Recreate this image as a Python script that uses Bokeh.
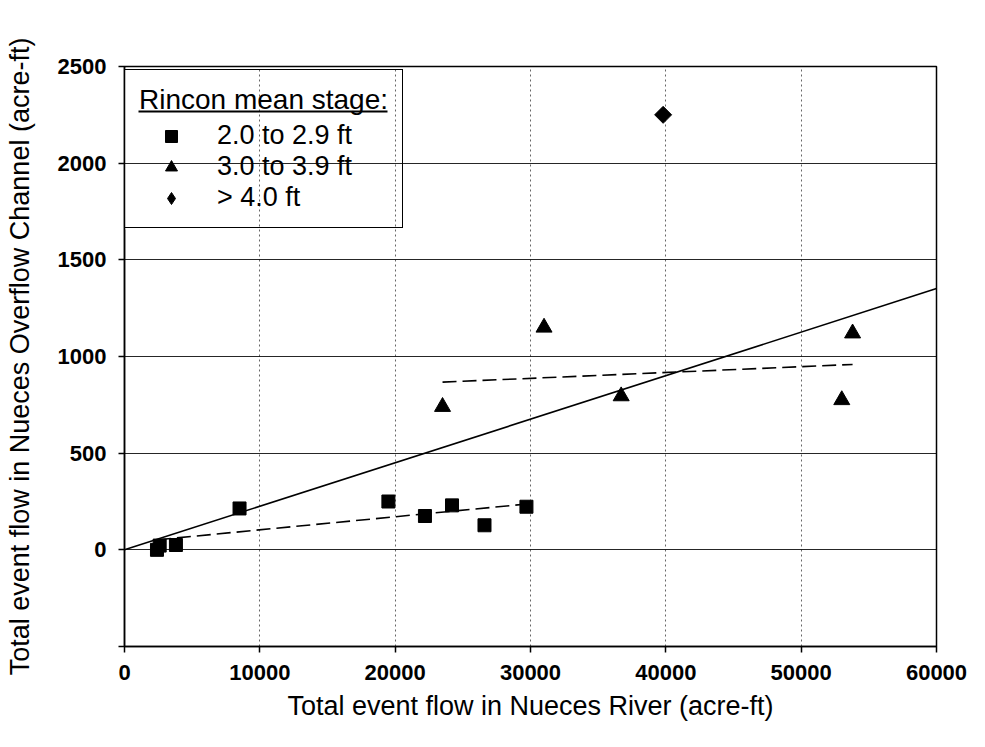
import numpy as np
from bokeh.plotting import figure
from bokeh.models import (Legend, LegendItem, SingleIntervalTicker,
                          Range1d, NumeralTickFormatter)
from bokeh.embed import file_html
from bokeh.resources import INLINE

# ---------------- data ----------------
sq_x = [2400, 2600, 3800, 8500, 19500, 22200, 24200, 26600, 29700]
sq_y = [0, 22, 25, 214, 250, 175, 230, 127, 223]
tri_x = [23500, 31000, 36700, 53000, 53800]
tri_y = [740, 1150, 795, 775, 1120]
dia_x = [39800]
dia_y = [2250]

legend_title = "Rincon mean stage:"
series_labels = ["2.0 to 2.9 ft", "3.0 to 3.9 ft", "> 4.0 ft"]
x_title = "Total event flow in Nueces River (acre-ft)"
y_title = "Total event flow in Nueces Overflow Channel (acre-ft)"
x_min, x_max, x_step = 0, 60000, 10000
y_min, y_max, y_step = -500, 2500, 500

FONT = "Liberation Sans"

# ---------------- regressions ----------------
all_x = np.array(sq_x + tri_x + dia_x, dtype=float)
all_y = np.array(sq_y + tri_y + dia_y, dtype=float)
k0 = float(np.sum(all_x * all_y) / np.sum(all_x ** 2))   # through origin
fit_x = [x_min, x_max]
fit_y = [k0 * v for v in fit_x]

def ols(xs, ys):
    m, b = np.polyfit(np.array(xs, float), np.array(ys, float), 1)
    xx = [min(xs), max(xs)]
    return xx, [m * v + b for v in xx]

sq_fx, sq_fy = ols(sq_x, sq_y)
tri_fx, tri_fy = ols(tri_x, tri_y)

# ---------------- figure ----------------
W, H = 969, 731
TOP, BOTTOM, LEFT, RIGHT = 66, 85, 124, 33
frame_w = W - LEFT - RIGHT
frame_h = H - TOP - BOTTOM
p = figure(width=W, height=H, output_backend="svg", toolbar_location=None,
           x_range=Range1d(x_min, x_max), y_range=Range1d(y_min, y_max),
           min_border_left=LEFT, min_border_right=RIGHT,
           min_border_top=TOP, min_border_bottom=BOTTOM,
           background_fill_color="white", border_fill_color="white")
p.outline_line_color = "black"
p.outline_line_width = 1.5

p.xaxis.ticker = SingleIntervalTicker(interval=x_step)
p.yaxis.ticker = SingleIntervalTicker(interval=y_step)
p.xaxis.formatter = NumeralTickFormatter(format="0")
p.yaxis.formatter = NumeralTickFormatter(format="0")
p.yaxis.major_label_overrides = {y_min: ""}

for ax in (p.xaxis[0], p.yaxis[0]):
    ax.axis_line_color = "black"
    ax.axis_line_width = 1.5
    ax.major_tick_line_color = "black"
    ax.major_tick_line_width = 1.5
    ax.major_tick_out = 6
    ax.major_tick_in = 0
    ax.minor_tick_line_color = None
    ax.major_label_text_font = FONT
    ax.major_label_text_font_size = "22px"
    ax.major_label_text_font_style = "bold"
    ax.major_label_text_color = "black"
    ax.axis_label_text_font = FONT
    ax.axis_label_text_font_size = "27px"
    ax.axis_label_text_font_style = "normal"
    ax.axis_label_text_color = "black"

p.xaxis.axis_label = x_title
p.yaxis.axis_label = y_title
p.xaxis.major_label_standoff = 12
p.xaxis.axis_label_standoff = 8
p.yaxis.major_label_standoff = 12
p.yaxis.axis_label_standoff = 20

p.xgrid.grid_line_color = "black"
p.xgrid.grid_line_alpha = 0.6
p.xgrid.grid_line_dash = "2 3"
p.xgrid.grid_line_width = 1
p.ygrid.grid_line_color = "black"
p.ygrid.grid_line_alpha = 0.85
p.ygrid.grid_line_width = 1

# ---------------- legend geometry (pixels, relative to the frame) ----------------
px_x = (x_max - x_min) / frame_w
px_y = (y_max - y_min) / frame_h
LEG_PAD = 14
LEG_BOTTOM_PX = 162          # legend bottom edge below the frame top
LEG_TOP_PX = 3               # legend top edge below the frame top (as laid out)
LEG_RIGHT_PX = 279           # legend right edge from the frame left
leg_y = frame_h - LEG_BOTTOM_PX

# white backing for the (transparent) legend box, drawn above the grid
p.quad(left=[x_min], right=[x_min + (LEG_RIGHT_PX + 1) * px_x],
       top=[y_max - (LEG_TOP_PX - 1) * px_y], bottom=[y_max - (LEG_BOTTOM_PX + 1) * px_y],
       fill_color="white", line_color=None, level="underlay")

# underline of the legend title
ul_left_px, ul_width_px, ul_top_px = LEG_PAD, 249, 44
p.quad(left=[x_min + ul_left_px * px_x],
       right=[x_min + (ul_left_px + ul_width_px) * px_x],
       top=[y_max - ul_top_px * px_y],
       bottom=[y_max - (ul_top_px + 2) * px_y],
       fill_color="black", line_color=None)

# ---------------- lines ----------------
p.line(fit_x, fit_y, line_color="black", line_width=1.6)
p.line(sq_fx, sq_fy, line_color="black", line_width=1.6, line_dash="14 6")
p.line(tri_fx, tri_fy, line_color="black", line_width=1.6, line_dash="14 6")

# ---------------- points ----------------
r_sq = p.scatter(sq_x, sq_y, marker="square", size=13, color="black")
r_tri = p.scatter(tri_x, tri_y, marker="triangle", size=16, color="black")
r_dia = p.scatter(dia_x, dia_y, marker="square", angle=np.pi / 4, size=12, color="black")
# legend swatch for the diamond series (same data, not drawn)
r_dia_leg = p.scatter(dia_x, dia_y, marker="diamond", size=18, color="black", visible=False)

# ---------------- legend ----------------
legend = Legend(
    items=[LegendItem(label=series_labels[0], renderers=[r_sq]),
           LegendItem(label=series_labels[1], renderers=[r_tri]),
           LegendItem(label=series_labels[2], renderers=[r_dia_leg])],
    location=(0, leg_y), title=legend_title,
    title_text_font=FONT, title_text_font_size="28px", title_text_font_style="normal",
    title_text_color="black",
    label_text_font=FONT, label_text_font_size="27px", label_text_color="black",
    border_line_color="black", border_line_width=1.5, border_line_alpha=1.0,
    background_fill_alpha=0.0,
    padding=LEG_PAD, margin=0, spacing=0, title_standoff=4,
    glyph_width=64, glyph_height=30, label_standoff=14, label_height=28)
p.add_layout(legend)

open("out.html", "w").write(file_html(p, INLINE))
